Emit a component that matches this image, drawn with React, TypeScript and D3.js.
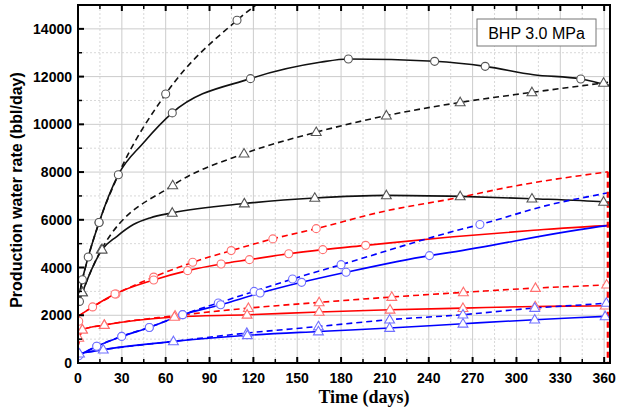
import React from 'react';
import * as d3 from 'd3';

// production water rate vs time, BHP 3.0 MPa
type Pt = [number, number];

const xTicks = d3.range(0, 361, 30);
const xMinor = d3.range(15, 361, 30);
const yTicks = d3.range(0, 14001, 2000);
const yMinor = d3.range(1000, 15000, 2000);

// black, dashed, circles
const blackDashCircleLine: Pt[] = [[0.3, 2650], [3, 3490], [7, 4440], [14.4, 5890], [27.6, 7890], [60, 11270], [108.8, 14360], [140, 15800]];
const blackDashCircleMarks: Pt[] = [[3, 3490], [7, 4440], [14.4, 5890], [27.6, 7890], [60, 11270], [108.8, 14360]];

// black, solid, circles
const blackSolidCircleLine: Pt[] = [[0.3, 2650], [3, 3490], [7, 4440], [14.4, 5890], [27.6, 7890], [44.7, 9220], [64.5, 10480], [118, 11915], [165.6, 12600], [185, 12740], [244, 12640], [278.6, 12430], [311.7, 12080], [344, 11900], [364, 11620]];
const blackSolidCircleMarks: Pt[] = [[1, 2580], [14.4, 5890], [64.5, 10480], [118, 11915], [185, 12740], [244, 12640], [278.6, 12430], [344, 11900]];

// black, dashed, triangles
const blackDashTriLine: Pt[] = [[0.3, 2500], [3, 2960], [16, 4750], [64.8, 7440], [113.6, 8770], [163, 9670], [211, 10365], [261.5, 10920], [310.6, 11340], [359.6, 11735], [364, 11770]];
const blackDashTriMarks: Pt[] = [[3, 2960], [16, 4750], [64.8, 7440], [113.6, 8770], [163, 9670], [211, 10365], [261.5, 10920], [310.6, 11340], [359.6, 11735]];

// black, solid, triangles
const blackSolidTriLine: Pt[] = [[0.3, 2500], [3, 2960], [16.5, 4750], [26.5, 5300], [37.9, 5800], [49.3, 6080], [64.5, 6290], [113.8, 6680], [162, 6915], [211, 7025], [261.5, 6980], [310.6, 6885], [359.6, 6750], [364, 6730]];
const blackSolidTriMarks: Pt[] = [[3, 2960], [16.5, 4750], [64.5, 6290], [113.8, 6680], [162, 6915], [211, 7025], [261.5, 6980], [310.6, 6885], [359.6, 6750]];

// red, dashed, circles (drops to zero at the end)
const redDashCircleLine: Pt[] = [[0, 1950], [10, 2350], [26, 2890], [51.8, 3600], [78.5, 4220], [104.8, 4710], [133.3, 5200], [163, 5630], [209, 6350], [259, 6915], [300, 7430], [362.5, 8010]];
const redDashCircleMarks: Pt[] = [[0.5, 1750], [26, 2890], [51.8, 3600], [78.5, 4220], [104.8, 4710], [133.3, 5200], [163, 5630]];

// red, solid, circles
const redSolidCircleLine: Pt[] = [[0, 1950], [10, 2350], [25.3, 2890], [51.8, 3480], [75, 3870], [97.9, 4150], [117.3, 4330], [144.2, 4580], [167.5, 4750], [196.8, 4930], [254.8, 5280], [311.7, 5560], [362, 5755], [364, 5760]];
const redSolidCircleMarks: Pt[] = [[10, 2350], [25.3, 2890], [51.8, 3480], [75, 3870], [97.9, 4150], [117.3, 4330], [144.2, 4580], [167.5, 4750], [196.8, 4930]];

// red, dashed, triangles
const redDashTriLine: Pt[] = [[0, 700], [3, 1395], [18, 1590], [66.4, 1980], [116.6, 2300], [165, 2540], [214.7, 2765], [263.7, 2960], [313, 3140], [361.7, 3280], [364, 3290]];
const redDashTriMarks: Pt[] = [[0.5, 1050], [3, 1395], [18, 1590], [66.4, 1980], [116.6, 2300], [165, 2540], [214.7, 2765], [263.7, 2960], [313, 3140], [361.7, 3280]];

// red, solid, triangles
const redSolidTriLine: Pt[] = [[0, 700], [3, 1395], [18, 1590], [66, 1930], [115.7, 2020], [165, 2140], [213.5, 2230], [263.4, 2300], [312.8, 2370], [360.7, 2400], [364, 2405]];
const redSolidTriMarks: Pt[] = [[3, 1395], [18, 1590], [66, 1930], [115.7, 2020], [165, 2140], [213.5, 2230], [263.4, 2300], [312.8, 2370], [360.7, 2400]];

// blue, dashed, circles
const blueDashCircleLine: Pt[] = [[0, 300], [12.8, 700], [29.9, 1115], [48.8, 1490], [71.6, 2025], [96, 2515], [120.5, 3000], [146.8, 3520], [180, 4120], [259, 5550], [275, 5800], [323, 6635], [362, 7125], [364, 7150]];
const blueDashCircleMarks: Pt[] = [[0.5, 300], [12.8, 700], [29.9, 1115], [48.8, 1490], [71.6, 2025], [96, 2515], [120.5, 3000], [146.8, 3520], [180, 4120], [275, 5800]];

// blue, solid, circles
const blueSolidCircleLine: Pt[] = [[0, 300], [12.8, 700], [29.9, 1115], [48.8, 1490], [71.6, 2025], [97.6, 2440], [124.6, 2930], [153, 3380], [183.4, 3800], [240.5, 4500], [254.8, 4635], [362, 5755], [364, 5770]];
const blueSolidCircleMarks: Pt[] = [[12.8, 700], [29.9, 1115], [48.8, 1490], [71.6, 2025], [97.6, 2440], [124.6, 2930], [153, 3380], [183.4, 3800], [240.5, 4500]];

// blue, dashed, triangles
const blueDashTriLine: Pt[] = [[0, 390], [17.3, 560], [65.3, 905], [115.5, 1255], [164.5, 1530], [213.2, 1815], [263.4, 2025], [312.5, 2305], [361.5, 2515], [364, 2530]];
const blueDashTriMarks: Pt[] = [[115.5, 1255], [164.5, 1530], [213.2, 1815], [263.4, 2025], [312.5, 2305], [361.5, 2515]];

// blue, solid, triangles
const blueSolidTriLine: Pt[] = [[0, 390], [17.3, 560], [65.3, 905], [115.9, 1160], [164.5, 1320], [213.2, 1465], [263.4, 1645], [312.5, 1815], [360.7, 1955], [364, 1965]];
const blueSolidTriMarks: Pt[] = [[1, 390], [17.3, 560], [65.3, 905], [115.9, 1160], [164.5, 1320], [213.2, 1465], [263.4, 1645], [312.5, 1815], [360.7, 1955]];

const series = [
  { line: blackDashCircleLine, marks: blackDashCircleMarks, color: '#111', mark: '#555', dash: true, shape: 'circle' },
  { line: blackSolidCircleLine, marks: blackSolidCircleMarks, color: '#111', mark: '#555', dash: false, shape: 'circle' },
  { line: blackDashTriLine, marks: blackDashTriMarks, color: '#111', mark: '#555', dash: true, shape: 'tri' },
  { line: blackSolidTriLine, marks: blackSolidTriMarks, color: '#111', mark: '#555', dash: false, shape: 'tri' },
  { line: redDashCircleLine, marks: redDashCircleMarks, color: '#ff0000', mark: '#ff7070', dash: true, shape: 'circle' },
  { line: redSolidCircleLine, marks: redSolidCircleMarks, color: '#ff0000', mark: '#ff7070', dash: false, shape: 'circle' },
  { line: redDashTriLine, marks: redDashTriMarks, color: '#ff0000', mark: '#ff7070', dash: true, shape: 'tri' },
  { line: redSolidTriLine, marks: redSolidTriMarks, color: '#ff0000', mark: '#ff7070', dash: false, shape: 'tri' },
  { line: blueDashCircleLine, marks: blueDashCircleMarks, color: '#0000ff', mark: '#7070ff', dash: true, shape: 'circle' },
  { line: blueSolidCircleLine, marks: blueSolidCircleMarks, color: '#0000ff', mark: '#7070ff', dash: false, shape: 'circle' },
  { line: blueDashTriLine, marks: blueDashTriMarks, color: '#0000ff', mark: '#7070ff', dash: true, shape: 'tri' },
  { line: blueSolidTriLine, marks: blueSolidTriMarks, color: '#0000ff', mark: '#7070ff', dash: false, shape: 'tri' },
];

const W = 626;
const H = 411;
const margin = { top: 5, right: 16, bottom: 48, left: 78 };

export default function App() {
  const innerW = W - margin.left - margin.right;
  const innerH = H - margin.top - margin.bottom;
  const x = d3.scaleLinear().domain([0, 364]).range([0, innerW]);
  const y = d3.scaleLinear().domain([0, 15000]).range([innerH, 0]);
  const line = d3.line<Pt>().x((d) => x(d[0])).y((d) => y(d[1])).curve(d3.curveMonotoneX);
  const tri = d3.symbol().type(d3.symbolTriangle).size(42)();
  const lastRed = redDashCircleLine[redDashCircleLine.length - 1];
  const font = 'Arial, "Liberation Sans", sans-serif';

  return (
    <div style={{ position: 'fixed', left: 0, top: 0 }}>
      <svg width={W} height={H} style={{ display: 'block', background: '#fff' }}>
        <defs>
          <clipPath id="plot">
            <rect x={0} y={0} width={innerW} height={innerH} />
          </clipPath>
        </defs>
        <g transform={'translate(' + margin.left + ',' + margin.top + ')'}>
          {/* grid */}
          {xMinor.map((t) => (
            <line key={'xm' + t} x1={x(t)} x2={x(t)} y1={0} y2={innerH} stroke="#d8d8d8" strokeDasharray="2,2" />
          ))}
          {yMinor.map((t) => (
            <line key={'ym' + t} x1={0} x2={innerW} y1={y(t)} y2={y(t)} stroke="#d8d8d8" strokeDasharray="2,2" />
          ))}
          {xTicks.map((t) => (
            <line key={'xg' + t} x1={x(t)} x2={x(t)} y1={0} y2={innerH} stroke="#cccccc" />
          ))}
          {yTicks.map((t) => (
            <line key={'yg' + t} x1={0} x2={innerW} y1={y(t)} y2={y(t)} stroke="#cccccc" />
          ))}

          {/* curves */}
          <g clipPath="url(#plot)">
            {series.map((s, i) => (
              <path key={'l' + i} d={line(s.line) || ''} fill="none" stroke={s.color} strokeWidth={1.6}
                strokeDasharray={s.dash ? '6,4' : undefined} />
            ))}
            <line x1={x(lastRed[0])} x2={x(lastRed[0])} y1={y(lastRed[1])} y2={y(0)} stroke="#ff0000"
              strokeWidth={2.2} strokeDasharray="6,4" />
            {series.map((s, i) =>
              s.marks.map((d, j) =>
                s.shape === 'circle' ? (
                  <circle key={'m' + i + '-' + j} cx={x(d[0])} cy={y(d[1])} r={4} fill="#fff" stroke={s.mark} strokeWidth={1.1} />
                ) : (
                  <path key={'m' + i + '-' + j} d={tri || ''} transform={'translate(' + x(d[0]) + ',' + (y(d[1]) + 0.5) + ')'}
                    fill="#fff" stroke={s.mark} strokeWidth={1.1} />
                )
              )
            )}
          </g>

          {/* ticks, inward */}
          {xTicks.map((t) => (
            <g key={'xt' + t}>
              <line x1={x(t)} x2={x(t)} y1={innerH} y2={innerH - 6} stroke="#000" strokeWidth={2} />
              <line x1={x(t)} x2={x(t)} y1={0} y2={6} stroke="#000" strokeWidth={2} />
              <text x={x(t)} y={innerH + 20} textAnchor="middle" fontFamily={font} fontWeight="bold" fontSize={14}>{t}</text>
            </g>
          ))}
          {xMinor.map((t) => (
            <g key={'xmt' + t}>
              <line x1={x(t)} x2={x(t)} y1={innerH} y2={innerH - 4} stroke="#000" strokeWidth={1.5} />
              <line x1={x(t)} x2={x(t)} y1={0} y2={4} stroke="#000" strokeWidth={1.5} />
            </g>
          ))}
          {yTicks.map((t) => (
            <g key={'yt' + t}>
              <line x1={0} x2={6} y1={y(t)} y2={y(t)} stroke="#000" strokeWidth={2} />
              <text x={-6} y={y(t) + 5} textAnchor="end" fontFamily={font} fontWeight="bold" fontSize={14}>{t}</text>
            </g>
          ))}
          {yMinor.map((t) => (
            <line key={'ymt' + t} x1={0} x2={4} y1={y(t)} y2={y(t)} stroke="#000" strokeWidth={1.5} />
          ))}

          <rect x={0} y={0} width={innerW} height={innerH} fill="none" stroke="#000" strokeWidth={2} />

          {/* legend box */}
          <rect x={399} y={14} width={119} height={27} fill="#fff" stroke="#777" strokeWidth={1} />
          <text x={458.5} y={33.5} textAnchor="middle" fontFamily={font} fontSize={16}>BHP 3.0 MPa</text>

          {/* axis titles */}
          <text x={innerW / 2 + 20} y={innerH + 40} textAnchor="middle" fontFamily='"Liberation Serif", "Times New Roman", serif'
            fontWeight="bold" fontSize={18}>Time (days)</text>
          <text transform={'translate(' + (-56) + ',' + (innerH / 2 + 6) + ') rotate(-90)'} textAnchor="middle"
            fontFamily={font} fontWeight="bold" fontSize={16}>Production water rate (bbl/day)</text>
        </g>
      </svg>
    </div>
  );
}
